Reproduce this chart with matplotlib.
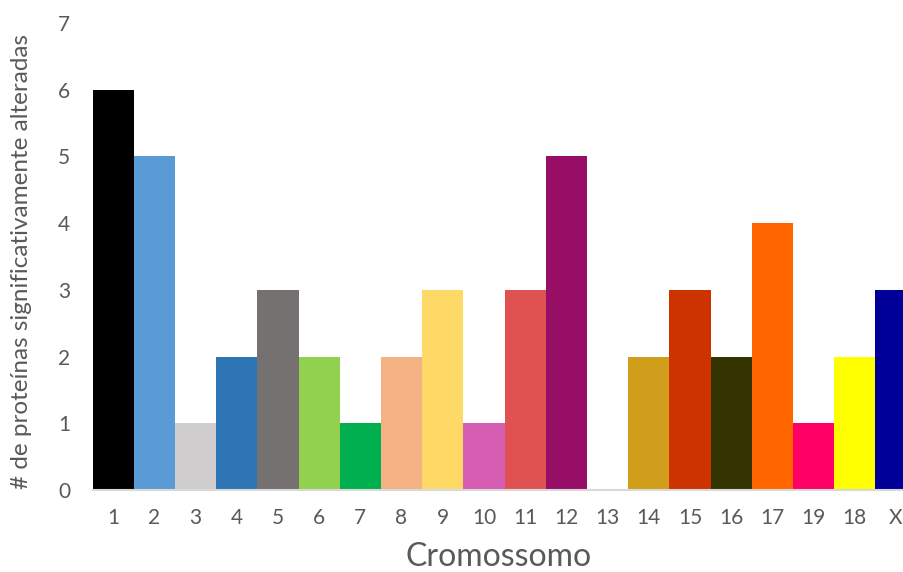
import matplotlib
matplotlib.use("Agg")
import matplotlib.pyplot as plt

chromosomes = ["1", "2", "3", "4", "5", "6", "7", "8", "9", "10",
               "11", "12", "13", "14", "15", "16", "17", "19", "18", "X"]
counts = [6, 5, 1, 2, 3, 2, 1, 2, 3, 1, 3, 5, 0, 2, 3, 2, 4, 1, 2, 3]
colors = ["#000000", "#5b9bd5", "#d0cece", "#2e75b6", "#767171", "#92d050",
          "#00b050", "#f4b183", "#ffd966", "#d65db1", "#e05252", "#970e66",
          "#ffffff", "#d09e1a", "#cc3300", "#333300", "#ff6600", "#ff0066",
          "#ffff00", "#000099"]

plt.rcParams['font.family'] = ['Lato', 'DejaVu Sans']

fig = plt.figure(figsize=(9.04, 5.72), dpi=100)
ax = fig.add_axes([92.5 / 904, 82 / 572, 1 - 92.5 / 904, (549 - 82) / 572])

x = range(len(counts))
ax.bar(x, counts, width=1.0, color=colors, edgecolor="none")

# category width is ~41.2 px; the last bar runs off the right edge
ax.set_xlim(-0.5, -0.5 + (904 - 92.5) / 41.2)
ax.set_ylim(0, 7)
ax.set_xticks(list(x))
ax.set_xticklabels(chromosomes)
ax.set_yticks(range(0, 8))

for s in ["top", "right", "left"]:
    ax.spines[s].set_visible(False)
ax.spines["bottom"].set_color("#d9d9d9")
ax.spines["bottom"].set_linewidth(1.5)

ax.tick_params(axis="both", length=0, labelsize=15, colors="#595959")
ax.tick_params(axis="x", pad=13)
ax.tick_params(axis="y", pad=16)

ax.set_xlabel("Cromossomo", fontsize=23, color="#595959", labelpad=10)
ax.set_ylabel("# de proteínas significativamente alteradas", fontsize=17.5,
              color="#595959")
ax.yaxis.set_label_coords(-60 / 811.5, 0.49)

fig.savefig("out.png", dpi=100)
